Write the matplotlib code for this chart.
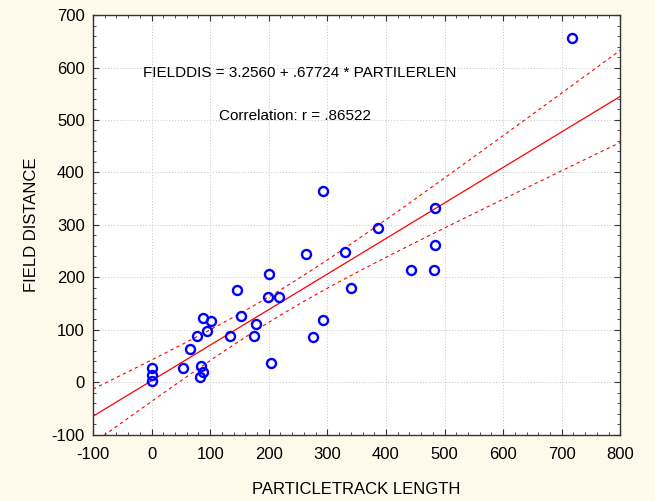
import matplotlib
matplotlib.use("Agg")
import matplotlib.pyplot as plt
import matplotlib.ticker as tk
import numpy as np

plt.rcParams['font.family'] = ['Liberation Sans', 'DejaVu Sans']
plt.rcParams['axes.unicode_minus'] = False

background_figure = "#fff9ec"
point_color = "blue"
line_color = "red"

# values
track_length = [717, 293, 484, 386, 330, 264, 483, 443, 482, 200, 146, 340, 199, 217,
				152, 88, 101, 179, 293, 94, 77, 133, 174, 275, 65, 204, 0, 0, 0, 54, 84, 87, 83]
field_distance = [656, 364, 332, 294, 248, 244, 261, 215, 215, 207, 176, 180, 163, 163,
				127, 123, 117, 111, 119, 98, 89, 89, 89, 87, 63, 37, 27, 14, 2, 28, 32, 20, 10]
intercept = 3.2560
slope = 0.67724
t_crit = 2.0395  # t(0.975, n-2)

eq_text = "FIELDDIS = 3.2560 + .67724 * PARTILERLEN"
corr_text = "Correlation: r = .86522"

x = np.array(track_length, dtype=float)
y = np.array(field_distance, dtype=float)
n = len(x)
resid = y - (intercept + slope * x)
s = np.sqrt(np.sum(resid ** 2) / (n - 2))
xm = x.mean()
sxx = np.sum((x - xm) ** 2)

xs = np.linspace(-100, 800, 200)
ys = intercept + slope * xs
half = t_crit * s * np.sqrt(1.0 / n + (xs - xm) ** 2 / sxx)

fig = plt.figure(figsize=(6.55, 5.01), dpi=100, facecolor=background_figure)
ax = fig.add_axes([0.142, 0.132, 0.805, 0.838])
ax.set_facecolor("white")

ax.plot(xs, ys, color=line_color, lw=0.9)
ax.plot(xs, ys + half, color=line_color, lw=0.8, ls=(0, (3, 3)))
ax.plot(xs, ys - half, color=line_color, lw=0.8, ls=(0, (3, 3)))
ax.plot(x, y, "o", mfc="none", mec=point_color, mew=1.7, ms=6.5, zorder=5)

ax.set_xlim(-100, 800)
ax.set_ylim(-100, 700)
ax.xaxis.set_major_locator(tk.MultipleLocator(100))
ax.yaxis.set_major_locator(tk.MultipleLocator(100))
ax.xaxis.set_minor_locator(tk.MultipleLocator(20))
ax.yaxis.set_minor_locator(tk.MultipleLocator(20))
ax.tick_params(which="both", direction="in", top=True, right=True, colors="#333333",
			labelcolor="black", labelsize=12)
ax.tick_params(which="major", length=4)
ax.tick_params(which="minor", length=2.5)
ax.tick_params(axis="x", which="major", pad=9)
ax.tick_params(axis="y", which="major", pad=6)
ax.grid(True, which="major", ls=(0, (1, 2)), lw=0.7, color="#c4c4c4")
ax.set_axisbelow(True)
for sp in ax.spines.values():
	sp.set_color("#333333")
	sp.set_linewidth(1.0)

ax.text(252, 590, eq_text, ha="center", va="center", fontsize=11)
ax.text(245, 508, corr_text, ha="center", va="center", fontsize=11)

ax.set_xlabel("PARTICLETRACK LENGTH", fontsize=12, labelpad=14)
ax.set_ylabel("FIELD DISTANCE", fontsize=12, labelpad=9)

fig.savefig("out.png", facecolor=fig.get_facecolor())
